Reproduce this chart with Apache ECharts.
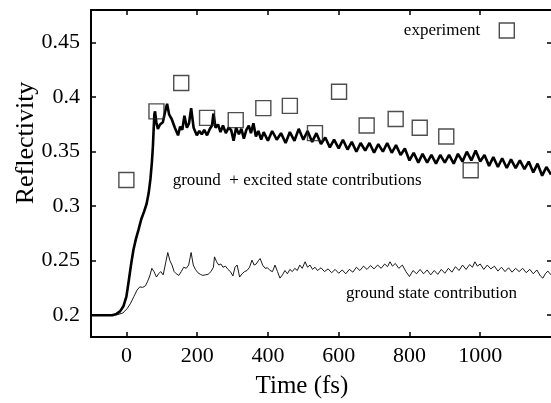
<!DOCTYPE html>
<html><head><meta charset="utf-8">
<script src="https://cdn.jsdelivr.net/npm/echarts@6/dist/echarts.min.js"></script>
<style>html,body{margin:0;padding:0;background:#fff}#c{width:551px;height:403px}</style>
</head><body><div id="c"></div>
<script>
// Ground + excited state contributions (thick line)
const totalTime = [-100,-40,-28,-18,-8,0,6,13,20,27,34,42,50,57,63,68,72,75,77,79,81,85,89,95,103,109,115,121,128,137,146,152,158,164,171,177,183,190,199,206,213,220,228,236,242,246,252,259,266,273,281,289,296,303,310,318,325,332,339,346,352,359,366,373,381,388,400,412,425,437,450,462,475,487,500,512,525,537,550,562,575,587,600,612,625,637,650,662,675,687,700,712,725,737,750,762,775,787,800,812,825,837,850,862,875,887,900,912,925,937,950,962,975,987,1000,1012,1025,1037,1050,1062,1075,1087,1100,1112,1125,1137,1150,1162,1175,1187,1200];
const totalR = [0.200,0.200,0.2012,0.2035,0.2085,0.217,0.230,0.246,0.260,0.270,0.278,0.288,0.295,0.302,0.312,0.325,0.340,0.355,0.370,0.384,0.387,0.376,0.371,0.375,0.377,0.386,0.394,0.384,0.380,0.372,0.365,0.373,0.370,0.383,0.372,0.376,0.390,0.372,0.365,0.369,0.366,0.370,0.365,0.371,0.374,0.385,0.372,0.375,0.368,0.374,0.367,0.372,0.370,0.360,0.372,0.366,0.371,0.362,0.370,0.374,0.367,0.376,0.364,0.369,0.361,0.368,0.360,0.369,0.361,0.367,0.358,0.368,0.360,0.371,0.361,0.369,0.359,0.367,0.357,0.363,0.354,0.361,0.353,0.361,0.352,0.359,0.350,0.358,0.351,0.358,0.349,0.357,0.350,0.358,0.349,0.356,0.347,0.353,0.342,0.349,0.340,0.348,0.340,0.347,0.339,0.347,0.340,0.347,0.339,0.348,0.341,0.350,0.342,0.351,0.341,0.347,0.337,0.345,0.336,0.344,0.335,0.343,0.335,0.342,0.334,0.341,0.331,0.339,0.328,0.336,0.329];
// Ground state contribution (thin line)
const groundTime = [-100,-40,-25,-10,2,12,21,30,38,46,54,60,66,72,78,85,91,97,104,111,117,123,129,135,141,148,155,162,169,176,183,189,195,202,209,216,223,231,239,246,249,255,261,267,273,280,287,294,301,307,313,320,327,334,341,348,355,361,367,373,378,385,392,399,406,413,420,427,434,441,448,455,462,469,476,483,490,497,505,512,519,526,533,540,550,560,570,580,590,600,610,620,630,640,650,660,670,680,690,700,710,720,730,738,745,752,760,770,780,790,800,810,820,830,840,850,860,870,880,890,900,910,920,930,940,950,960,970,978,985,992,1000,1010,1020,1030,1040,1050,1060,1070,1080,1090,1100,1110,1120,1130,1140,1150,1160,1170,1177,1184,1191,1200];
const groundR = [0.200,0.200,0.2005,0.202,0.206,0.211,0.217,0.223,0.226,0.2255,0.227,0.231,0.236,0.243,0.240,0.235,0.238,0.240,0.237,0.248,0.2575,0.250,0.246,0.240,0.238,0.2365,0.240,0.244,0.243,0.246,0.2575,0.246,0.242,0.239,0.2375,0.2365,0.237,0.2375,0.240,0.244,0.2535,0.249,0.246,0.247,0.244,0.245,0.242,0.240,0.236,0.244,0.246,0.235,0.238,0.240,0.241,0.244,0.2505,0.246,0.247,0.250,0.252,0.246,0.243,0.2435,0.241,0.240,0.246,0.240,0.234,0.237,0.241,0.238,0.242,0.240,0.243,0.241,0.246,0.243,0.249,0.244,0.246,0.242,0.244,0.241,0.2435,0.240,0.2425,0.239,0.242,0.2385,0.2415,0.238,0.242,0.2395,0.244,0.241,0.245,0.242,0.2455,0.2425,0.246,0.243,0.247,0.2445,0.249,0.245,0.2475,0.243,0.246,0.240,0.2355,0.241,0.238,0.242,0.238,0.2415,0.237,0.241,0.2375,0.242,0.2385,0.243,0.2395,0.2445,0.241,0.246,0.242,0.2465,0.244,0.249,0.245,0.247,0.242,0.246,0.2425,0.245,0.2405,0.244,0.240,0.2435,0.2395,0.243,0.240,0.243,0.239,0.242,0.238,0.2415,0.236,0.234,0.238,0.2405,0.237];
// Experiment
const expTime = [0,85,155,228,309,387,462,533,601,679,761,829,904,973];
const expR = [0.324,0.387,0.413,0.381,0.379,0.390,0.392,0.367,0.405,0.374,0.380,0.372,0.364,0.333];
// Ticks
const xTicks = [0,200,400,600,800,1000];
const yTicks = [0.2,0.25,0.3,0.35,0.4,0.45];

const zip = (a, b) => a.map((v, i) => [v, b[i]]);
const FONT = '"Liberation Serif", "Times New Roman", serif';
const chart = echarts.init(document.getElementById('c'));
const axisLine = {show:true, onZero:false, lineStyle:{color:'#000', width:2}};
const tickStyle = {color:'#000', width:1.5};
const fmt = v => String(v);
chart.setOption({
  animation:false,
  backgroundColor:'#fff',
  grid:{left:91, right:0, top:10, bottom:66},
  xAxis:[
    {type:'value', min:-100, max:1200, position:'bottom', axisLine:axisLine,
     axisTick:{show:true, inside:true, length:5, customValues:xTicks, lineStyle:tickStyle},
     axisLabel:{show:true, customValues:xTicks, formatter:fmt, margin:8, fontFamily:FONT, fontSize:22, color:'#000'},
     splitLine:{show:false}},
    {type:'value', min:-100, max:1200, position:'top', axisLine:axisLine,
     axisTick:{show:true, inside:true, length:5, customValues:xTicks, lineStyle:tickStyle},
     axisLabel:{show:false}, splitLine:{show:false}}
  ],
  yAxis:[
    {type:'value', min:0.18, max:0.48, position:'left', axisLine:axisLine,
     axisTick:{show:true, inside:true, length:5, customValues:yTicks, lineStyle:tickStyle},
     axisLabel:{show:true, customValues:yTicks, formatter:fmt, margin:11, fontFamily:FONT, fontSize:22, color:'#000'},
     splitLine:{show:false}},
    {type:'value', min:0.18, max:0.48, position:'right', axisLine:{show:false, onZero:false},
     axisTick:{show:true, inside:true, length:4, customValues:yTicks, lineStyle:tickStyle},
     axisLabel:{show:false}, splitLine:{show:false}}
  ],
  legend:{data:['experiment'], right:36, top:22, padding:0, align:'right', itemWidth:15, itemHeight:15,
    textStyle:{fontFamily:FONT, fontSize:17, color:'#000', padding:[0,14,0,0]},
    itemStyle:{color:'rgba(0,0,0,0)', borderColor:'#222', borderWidth:1.4}},
  graphic:[
    {type:'text', x:172.7, y:181, style:{text:'ground  + excited state contributions', font:'17px ' + FONT, fill:'#000', align:'left', verticalAlign:'middle'}},
    {type:'text', x:346, y:294, style:{text:'ground state contribution', font:'17px ' + FONT, fill:'#000', align:'left', verticalAlign:'middle'}},
    {type:'text', x:302, y:386, style:{text:'Time (fs)', font:'25px ' + FONT, fill:'#000', align:'center', verticalAlign:'middle'}},
    {type:'text', x:26, y:143, rotation:Math.PI/2, style:{text:'Reflectivity', font:'26px ' + FONT, fill:'#000', align:'center', verticalAlign:'middle'}}
  ],
  series:[
    {name:'ground state contribution', type:'line', data:zip(groundTime, groundR), showSymbol:false, symbol:'none',
     lineStyle:{color:'#000', width:0.9}, z:2},
    {name:'ground + excited state contributions', type:'line', data:zip(totalTime, totalR), showSymbol:false, symbol:'none',
     lineStyle:{color:'#000', width:2.6}, z:3},
    {name:'experiment', type:'scatter', data:zip(expTime, expR), symbol:'rect', symbolSize:15,
     itemStyle:{color:'rgba(0,0,0,0)', borderColor:'#222', borderWidth:1.4}, z:5}
  ]
});
</script>
</body></html>
